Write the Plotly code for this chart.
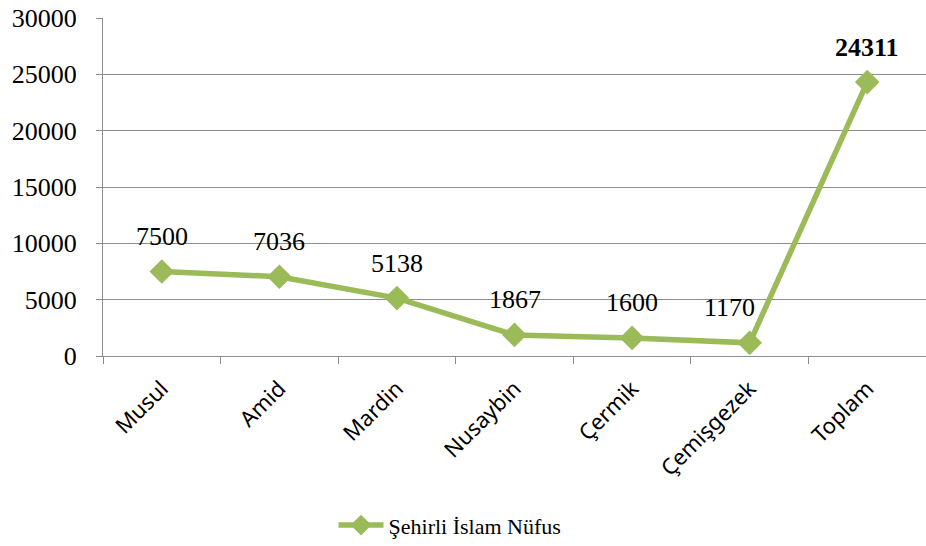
import plotly.graph_objects as go

categories = ["Musul", "Amid", "Mardin", "Nusaybin", "Çermik", "Çemişgezek", "Toplam"]
values = [7500, 7036, 5138, 1867, 1600, 1170, 24311]
series_name = "Şehirli İslam Nüfus"
y_ticks = [0, 5000, 10000, 15000, 20000, 25000, 30000]

green = "#9BBB59"
grid = "#8C8C8C"
serif = "Liberation Serif, Times New Roman, serif"

fig = go.Figure()
fig.add_trace(go.Scatter(
    x=categories, y=values, mode="lines+markers", name=series_name,
    line=dict(color=green, width=5.5),
    marker=dict(symbol="diamond", size=19, color=green),
))

xshifts = [0, 0, 0, 0, 0, -20, 0]
for i, (c, v) in enumerate(zip(categories, values)):
    bold = (c == "Toplam")
    fig.add_annotation(
        x=c, y=v, text=(f"<b>{v}</b>" if bold else str(v)), showarrow=False,
        yshift=35, xshift=xshifts[i],
        font=dict(family=serif, size=26, color="black"),
    )

fig.update_layout(
    width=926, height=546,
    margin=dict(l=103, r=0, t=18, b=190, autoexpand=False),
    plot_bgcolor="white", paper_bgcolor="white",
    showlegend=True,
    legend=dict(orientation="h", xref="container", yref="container",
                x=0.486, xanchor="center", y=0.038, yanchor="middle",
                font=dict(family=serif, size=22, color="black"),
                itemwidth=45),
)
fig.update_xaxes(
    type="category", range=[-0.5, 6.5], automargin=False,
    showline=True, linecolor=grid, linewidth=1,
    ticks="outside", tickson="boundaries", ticklen=7, tickcolor=grid,
    tickangle=-45, showgrid=False,
    tickfont=dict(family="Noto Sans", size=22, color="black"),
    ticklabelstandoff=10,
)
fig.update_yaxes(
    range=[0, 30000], tickvals=y_ticks, ticktext=[str(t) for t in y_ticks],
    automargin=False,
    showline=True, linecolor=grid, linewidth=1,
    ticks="outside", ticklen=6, tickcolor=grid,
    showgrid=True, gridcolor=grid, gridwidth=1,
    zeroline=False,
    tickfont=dict(family=serif, size=26, color="black"),
    ticklabelstandoff=14,
)

fig.write_html("out.html", config={"displayModeBar": False},
               post_script="document.body.style.margin='0';")
